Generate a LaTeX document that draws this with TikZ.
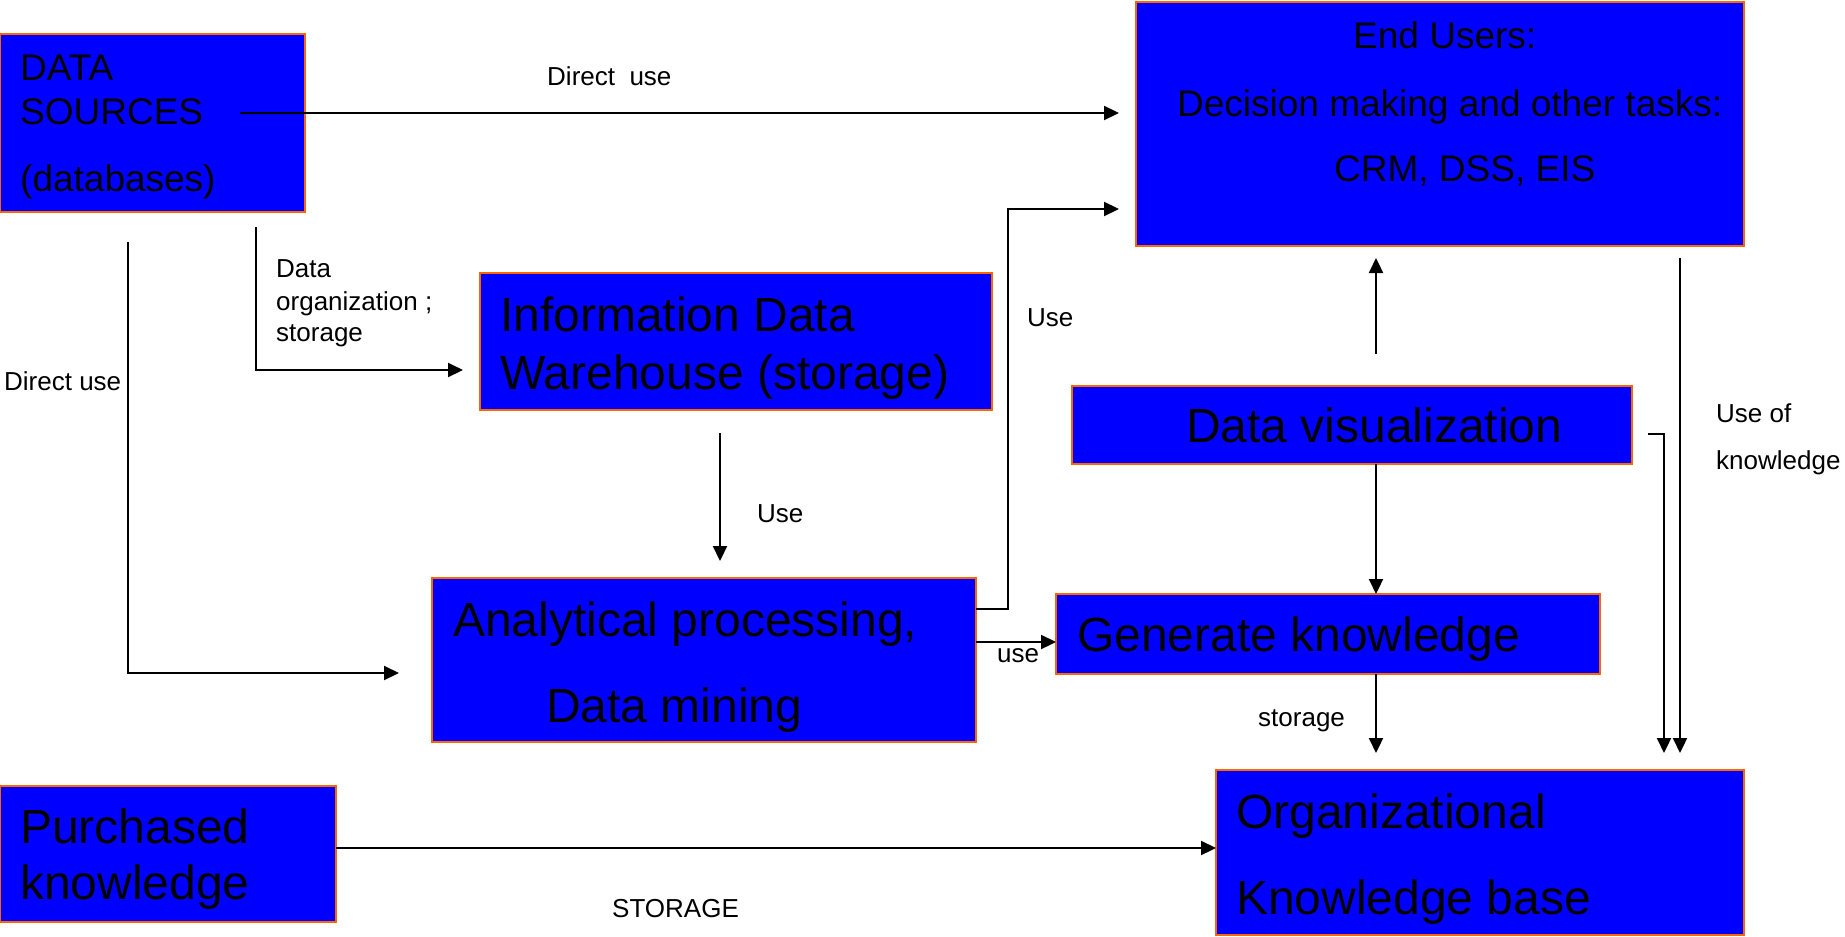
\documentclass[tikz,border=0pt]{standalone}
\usepackage{fontspec}
\setmainfont{Liberation Sans}
\usetikzlibrary{arrows.meta}
\definecolor{boxfill}{RGB}{0,0,255}
\definecolor{boxedge}{RGB}{255,102,0}
\tikzset{
  box/.style={draw=boxedge, fill=boxfill, line width=2.5pt, anchor=north west,
    inner sep=0pt, outer sep=0pt},
  bigtxt/.style={anchor=base west, inner sep=0pt, text=black,
    font=\fontsize{48}{50}\selectfont},
  midtxt/.style={anchor=base west, inner sep=0pt, text=black,
    font=\fontsize{37}{40}\selectfont},
  lbl/.style={anchor=base west, inner sep=0pt, text=black,
    font=\fontsize{26}{28}\selectfont},
  conn/.style={draw=black, line width=2.2pt},
  arr/.style={conn, -{Triangle[length=15pt,width=14pt]}}
}
\begin{document}
\begin{tikzpicture}[x=1pt, y=-1pt]
\useasboundingbox[fill=white] (0,0) rectangle (1845,937);

% ---- boxes ----
\node[box, minimum width=305pt, minimum height=178pt] (ds)  at (0,34) {};
\node[box, minimum width=608pt, minimum height=244pt] (eu)  at (1136,2) {};
\node[box, minimum width=512pt, minimum height=137pt] (idw) at (480,273) {};
\node[box, minimum width=560pt, minimum height=78pt]  (dv)  at (1072,386) {};
\node[box, minimum width=544pt, minimum height=164pt] (ap)  at (432,578) {};
\node[box, minimum width=544pt, minimum height=80pt]  (gk)  at (1056,594) {};
\node[box, minimum width=336pt, minimum height=136pt] (pk)  at (0,786) {};
\node[box, minimum width=528pt, minimum height=165pt] (okb) at (1216,770) {};

% ---- box texts ----
\node[midtxt] (ds1) at (20,80)  {DATA};
\node[midtxt] (ds2) at (20,124) {SOURCES};
\node[midtxt] (ds3) at (20,191) {(databases)};

\node[midtxt] (eu1) at (1353,48)  {End Users:};
\node[midtxt] (eu2) at (1177,116) {Decision making and other tasks:};
\node[midtxt] (eu3) at (1334,181) {CRM, DSS, EIS};

\node[bigtxt] (idw1) at (500,331) {Information Data};
\node[bigtxt] (idw2) at (500,389) {Warehouse (storage)};

\node[bigtxt] (dv1) at (1186,442) {Data visualization};

\node[bigtxt] (ap1) at (453,636) {Analytical processing,};
\node[bigtxt] (ap2) at (546,722) {Data mining};

\node[bigtxt] (gk1) at (1077,651) {Generate knowledge};

\node[bigtxt] (pk1) at (20,843) {Purchased};
\node[bigtxt] (pk2) at (20,899) {knowledge};

\node[bigtxt] (okb1) at (1236,828) {Organizational};
\node[bigtxt] (okb2) at (1236,914) {Knowledge base};

% ---- free connector ends ----
\coordinate (dsA)   at (240,113);
\coordinate (euA)   at (1119,113);
\coordinate (dsB)   at (128,242);
\coordinate (apA)   at (399,673);
\coordinate (dsC)   at (256,227);
\coordinate (idwA)  at (463,370);
\coordinate (idwB)  at (720,433);
\coordinate (apB)   at (720,561);
\coordinate (euB)   at (1119,209);
\coordinate (bend)  at (1008,0);
\coordinate (dvA)   at (1376,354);
\coordinate (euC)   at (1376,258);
\coordinate (col)   at (1376,0);
\coordinate (okbA)  at (1376,753);
\coordinate (euD)   at (1680,258);
\coordinate (okbB)  at (1680,753);
\coordinate (dvB)   at (1648,434);
\coordinate (okbC)  at (1664,753);
\coordinate (gkA)   at ([yshift=-8pt]gk.west);
\coordinate (pkA)   at ([yshift=6pt]pk.east);

% ---- connectors ----
\draw[arr] (dsA) -- (euA);
\draw[arr] (dsB) |- (apA);
\draw[arr] (dsC) |- (idwA);
\draw[arr] (idwB) -- (apB);
\draw[arr] ([yshift=-31pt]ap.north east) -| (bend |- euB) -- (euB);
\draw[arr] (ap.east |- gkA) -- (gkA);
\draw[arr] (dvA) -- (euC);
\draw[arr] (dv.south -| col) -- (gk.north -| col);
\draw[arr] (gk.south -| col) -- (okbA);
\draw[arr] (euD) -- (okbB);
\draw[arr] (dvB) -| (okbC);
\draw[arr] (pkA) -- (pkA -| okb.west);

% ---- connector labels ----
\node[lbl] (l1) at (547,85)  {Direct\ \ use};
\node[lbl] (l2) at (4,390)   {Direct use};
\node[lbl] (l3) at (276,277) {Data};
\node[lbl] (l4) at (276,310) {organization ;};
\node[lbl] (l5) at (276,341) {storage};
\node[lbl] (l6) at (757,522) {Use};
\node[lbl] (l7) at (1027,326) {Use};
\node[lbl] (l8) at (997,662) {use};
\node[lbl] (l9) at (1258,726) {storage};
\node[lbl] (l10) at (1716,422) {Use of};
\node[lbl] (l11) at (1716,469) {knowledge};
\node[lbl] (l12) at (612,917) {STORAGE};
\end{tikzpicture}
\end{document}
